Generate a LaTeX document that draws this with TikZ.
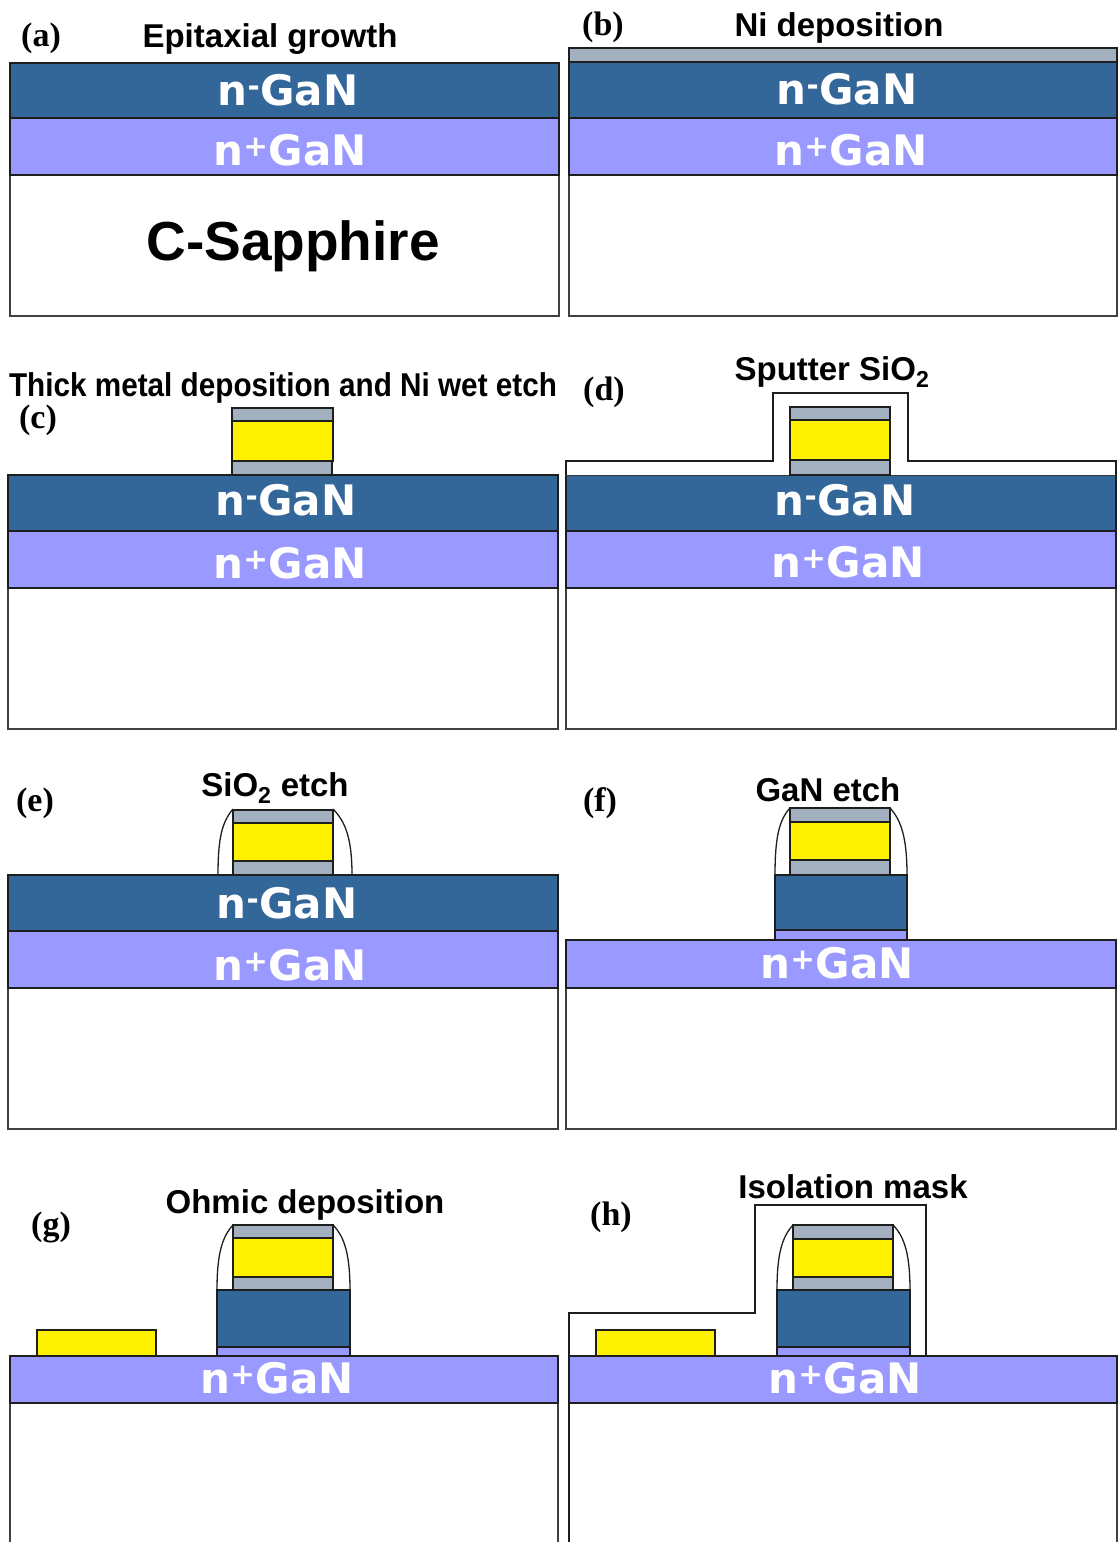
\documentclass[tikz,border=0pt]{standalone}
\usepackage{fontspec}
\setmainfont{Liberation Sans}
\newfontfamily\layerfont{DejaVu Sans}
\newfontfamily\tagfont{Liberation Serif}

\definecolor{nminus}{HTML}{336699}
\definecolor{nplus}{HTML}{9999FF}
\definecolor{nickel}{HTML}{A3B0C0}
\definecolor{edge}{HTML}{1E1E1E}

\begin{document}
\begin{tikzpicture}[x=1pt, y=-1pt,
	film/.style={draw=edge, line width=1.6pt},
	ngan/.style={film, fill=nminus},
	npgan/.style={film, fill=nplus},
	ni/.style={film, fill=nickel},
	au/.style={film, fill=yellow},
	sapph/.style={draw=edge!85, line width=1.6pt, fill=white},
	oxide/.style={draw=edge, line width=1.3pt},
	lbl/.style={text=white, font=\layerfont\bfseries\fontsize{42}{44}\selectfont},
	steptitle/.style={font=\bfseries\fontsize{33}{36}\selectfont},
	paneltag/.style={font=\tagfont\bfseries\fontsize{34}{36}\selectfont}]
\useasboundingbox (0,0) rectangle (1118,1542);

% (a) epitaxial growth
\draw[sapph] (10,175) rectangle (559,316);
\draw[npgan] (10,118) rectangle (559,175);
\draw[ngan]  (10,63)  rectangle (559,118);
\node[paneltag]  (tagA)   at (41,38)   {(a)};
\node[steptitle] (titleA) at (270,39)  {Epitaxial growth};
\node[lbl] (nmA) at (288,90)  {n\textsuperscript{-}GaN};
\node[lbl] (npA) at (290,150) {n\textsuperscript{+}GaN};
\node[font=\bfseries\fontsize{55}{58}\selectfont] (subA) at (293,246) {C-Sapphire};

% (b) Ni deposition
\draw[sapph] (569,175) rectangle (1117,316);
\draw[npgan] (569,118) rectangle (1117,175);
\draw[ngan]  (569,62)  rectangle (1117,118);
\draw[ni]    (569,48)  rectangle (1117,62);
\node[paneltag]  (tagB)   at (603,27) {(b)};
\node[steptitle] (titleB) at (839,28) {Ni deposition};
\node[lbl] (nmB) at (847,89)  {n\textsuperscript{-}GaN};
\node[lbl] (npB) at (851,150) {n\textsuperscript{+}GaN};

% (c) thick metal + Ni wet etch
\draw[sapph] (8,588) rectangle (558,729);
\draw[npgan] (8,531) rectangle (558,588);
\draw[ngan]  (8,475) rectangle (558,531);
\draw[ni] (232,461) rectangle (332,475);
\draw[au] (232,421) rectangle (333,461);
\draw[ni] (232,408) rectangle (333,421);
\node[steptitle] (titleC) at (283,388) {\scalebox{0.9}[1]{Thick metal deposition and Ni wet etch}};
\node[paneltag]  (tagC)   at (38,420) {(c)};
\node[lbl] (nmC) at (286,500) {n\textsuperscript{-}GaN};
\node[lbl] (npC) at (290,563) {n\textsuperscript{+}GaN};

% (d) sputtered SiO2
\draw[sapph] (566,588) rectangle (1116,729);
\draw[npgan] (566,531) rectangle (1116,588);
\draw[ngan]  (566,475) rectangle (1116,531);
\draw[oxide, fill=white] (566,475) -- (566,461) -- (773,461) -- (773,393)
	-- (908,393) -- (908,461) -- (1116,461) -- (1116,475);
\draw[ni] (790,460) rectangle (890,475);
\draw[au] (790,420) rectangle (890,460);
\draw[ni] (790,407) rectangle (890,420);
\node[paneltag]  (tagD)   at (604,392) {(d)};
\node[steptitle] (titleD) at (832,372) {Sputter SiO\textsubscript{2}};
\node[lbl] (nmD) at (845,500) {n\textsuperscript{-}GaN};
\node[lbl] (npD) at (848,562) {n\textsuperscript{+}GaN};

% (e) SiO2 etch, spacers left
\draw[sapph] (8,988) rectangle (558,1129);
\draw[npgan] (8,931) rectangle (558,988);
\draw[ngan]  (8,875) rectangle (558,931);
\draw[oxide] (233,809) .. controls (222,822) and (218,838) .. (218,875);
\draw[oxide] (333,809) .. controls (346,822) and (352,840) .. (352,875);
\draw[ni] (233,861) rectangle (333,875);
\draw[au] (233,823) rectangle (333,861);
\draw[ni] (233,810) rectangle (333,823);
\node[paneltag]  (tagE)   at (35,803)  {(e)};
\node[steptitle] (titleE) at (275,788) {SiO\textsubscript{2} etch};
\node[lbl] (nmE) at (287,903) {n\textsuperscript{-}GaN};
\node[lbl] (npE) at (290,965) {n\textsuperscript{+}GaN};

% (f) GaN mesa etch
\draw[sapph] (566,988) rectangle (1116,1129);
\draw[npgan] (566,940) rectangle (1116,988);
\draw[npgan] (775,930) rectangle (907,940);
\draw[ngan]  (775,875) rectangle (907,930);
\draw[oxide] (790,808) .. controls (779,820) and (775,838) .. (775,875);
\draw[oxide] (890,808) .. controls (902,821) and (907,840) .. (907,875);
\draw[ni] (790,860) rectangle (890,875);
\draw[au] (790,822) rectangle (890,860);
\draw[ni] (790,808) rectangle (890,822);
\node[paneltag]  (tagF)   at (600,803) {(f)};
\node[steptitle] (titleF) at (828,790) {GaN etch};
\node[lbl] (npF) at (837,963) {n\textsuperscript{+}GaN};

% (g) ohmic contact
\draw[sapph] (10,1542) -- (10,1403) -- (558,1403) -- (558,1542);
\draw[npgan] (10,1356) rectangle (558,1403);
\draw[npgan] (217,1347) rectangle (350,1356);
\draw[ngan]  (217,1290) rectangle (350,1347);
\draw[oxide] (233,1225) .. controls (222,1237) and (217,1254) .. (217,1290);
\draw[oxide] (333,1225) .. controls (345,1237) and (350,1256) .. (350,1290);
\draw[ni] (233,1277) rectangle (333,1290);
\draw[au] (233,1238) rectangle (333,1277);
\draw[ni] (233,1225) rectangle (333,1238);
\draw[au] (37,1330) rectangle (156,1356);
\node[paneltag]  (tagG)   at (51,1227)  {(g)};
\node[steptitle] (titleG) at (305,1205) {Ohmic deposition};
\node[lbl] (npG) at (277,1378) {n\textsuperscript{+}GaN};

% (h) isolation mask
\draw[sapph] (569,1542) -- (569,1403) -- (1117,1403) -- (1117,1542);
\draw[npgan] (569,1356) rectangle (1117,1403);
\draw[npgan] (777,1347) rectangle (910,1356);
\draw[ngan]  (777,1290) rectangle (910,1347);
\draw[oxide] (793,1225) .. controls (782,1237) and (777,1254) .. (777,1290);
\draw[oxide] (893,1225) .. controls (905,1237) and (910,1256) .. (910,1290);
\draw[ni] (793,1277) rectangle (893,1290);
\draw[au] (793,1239) rectangle (893,1277);
\draw[ni] (793,1225) rectangle (893,1239);
\draw[au] (596,1330) rectangle (715,1356);
\draw[oxide] (569,1542) -- (569,1313) -- (755,1313) -- (755,1205)
	-- (926,1205) -- (926,1356);
\node[paneltag]  (tagH)   at (611,1217) {(h)};
\node[steptitle] (titleH) at (853,1187) {Isolation mask};
\node[lbl] (npH) at (845,1378) {n\textsuperscript{+}GaN};
\end{tikzpicture}
\end{document}
